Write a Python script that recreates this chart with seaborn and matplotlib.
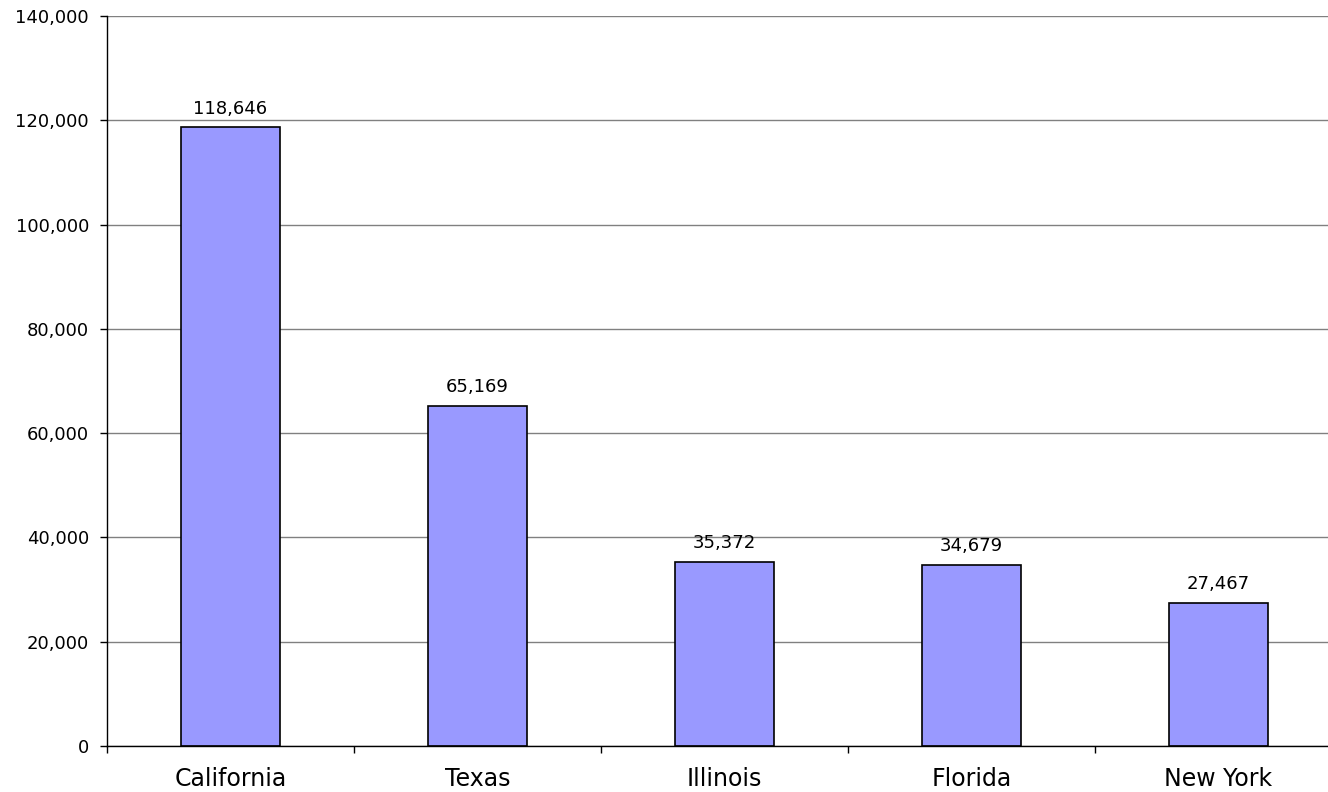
import matplotlib
matplotlib.use("Agg")
import matplotlib.pyplot as plt
import seaborn as sns
import pandas as pd
from matplotlib.ticker import FuncFormatter, FixedLocator

states = ["California", "Texas", "Illinois", "Florida", "New York"]
values = [118646, 65169, 35372, 34679, 27467]
y_ticks = [0, 20000, 40000, 60000, 80000, 100000, 120000, 140000]

sns.set_theme(style="white")
plt.rcParams['font.family'] = ['DejaVu Sans']

df = pd.DataFrame({"state": states, "value": values})

fig = plt.figure(figsize=(13.28, 7.92), dpi=100)
ax = fig.add_axes([107/1328, 1 - 746/792, (1342 - 107)/1328, (746 - 16)/792])

sns.barplot(data=df, x="state", y="value", color="#9999FF", edgecolor="black",
            linewidth=1.2, width=0.4, saturation=1, ax=ax)

ax.set_ylim(0, 140000)
ax.set_xlim(-0.5, len(states) - 0.5)
ax.set_yticks(y_ticks)
ax.yaxis.set_major_formatter(FuncFormatter(lambda v, p: f"{int(v):,}"))
ax.yaxis.grid(True, color="#808080", linewidth=1)
ax.set_axisbelow(True)

ax.set_xlabel("")
ax.set_ylabel("")

for s in ["top", "right"]:
    ax.spines[s].set_visible(False)
ax.spines["left"].set_color("black")
ax.spines["bottom"].set_color("black")
ax.spines["left"].set_linewidth(1)
ax.spines["bottom"].set_linewidth(1)

ax.tick_params(axis="y", which="major", direction="out", length=5, width=1,
               color="black", left=True, pad=8, labelsize=13, labelcolor="black")
ax.tick_params(axis="x", which="major", length=0, pad=15, labelsize=17, labelcolor="black")
ax.xaxis.set_minor_locator(FixedLocator([i + 0.5 for i in range(-1, len(states))]))
ax.tick_params(axis="x", which="minor", direction="out", length=5, width=1,
               color="black", bottom=True)

for c in ax.containers:
    ax.bar_label(c, labels=[f"{v:,}" for v in values], padding=7, fontsize=13, color="black")

fig.savefig("out.png", dpi=100)
